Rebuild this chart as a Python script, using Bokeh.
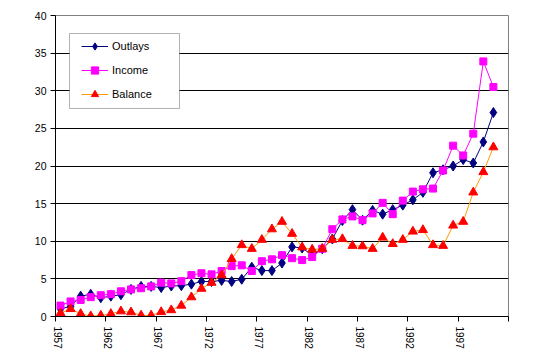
from bokeh.plotting import figure
from bokeh.models import FixedTicker, Legend, LegendItem, BoxAnnotation, AllLabels
from bokeh.embed import file_html
from bokeh.resources import INLINE

years = list(range(1957, 2001))
outlays = [1.0, 1.35, 2.7, 2.95, 2.5, 2.7, 2.9, 3.6, 4.0, 4.0,
           3.85, 4.05, 4.1, 4.3, 4.65, 4.65, 4.8, 4.65, 4.95, 6.55,
           6.1, 6.1, 7.1, 9.25, 9.1, 8.15, 9.0, 10.3, 12.75, 14.2,
           12.8, 14.1, 13.6, 14.2, 14.8, 15.5, 16.5, 19.1, 19.5, 20.0,
           20.85, 20.4, 23.2, 27.1]
income = [1.45, 2.0, 2.2, 2.57, 2.83, 2.97, 3.35, 3.6, 3.76, 4.0,
          4.5, 4.4, 4.7, 5.5, 5.75, 5.6, 6.05, 6.7, 6.8, 6.05,
          7.35, 7.6, 8.15, 7.75, 7.5, 7.9, 9.0, 11.6, 12.9, 13.3,
          12.8, 13.7, 15.1, 13.6, 15.4, 16.6, 16.9, 17.0, 19.4, 22.7,
          21.4, 24.3, 33.9, 30.5]
balance = [0.45, 1.0, 0.35, 0.05, 0.13, 0.35, 0.7, 0.57, 0.15, 0.15,
           0.6, 0.85, 1.45, 2.57, 3.7, 4.5, 5.5, 7.65, 9.5, 9.0,
           10.2, 11.6, 12.6, 11.0, 9.2, 8.9, 9.0, 10.2, 10.3, 9.4,
           9.35, 9.0, 10.5, 9.65, 10.2, 11.3, 11.5, 9.5, 9.4, 12.1,
           12.6, 16.5, 19.2, 22.5]
series_names = ["Outlays", "Income", "Balance"]
tick_years = [1957, 1962, 1967, 1972, 1977, 1982, 1987, 1992, 1997]
y_ticks = [0, 5, 10, 15, 20, 25, 30, 35, 40]

W, H = 547, 360
ML, MR, MT, MB = 55, 39, 15, 44
X0, X1 = 1956.5, 2001.5
Y0, Y1 = 0, 40
FW = W - ML - MR
FH = H - MT - MB
FONT = "Liberation Sans"


def sx(px):
    return X0 + (px - ML) * (X1 - X0) / FW


def sy(py):
    return Y1 - (py - MT) * (Y1 - Y0) / FH


p = figure(width=W, height=H, x_range=(X0, X1), y_range=(Y0, Y1),
           output_backend="svg", toolbar_location=None,
           min_border_left=ML, min_border_right=MR,
           min_border_top=MT, min_border_bottom=MB)
p.background_fill_color = "white"
p.border_fill_color = "white"
p.outline_line_color = "#808080"

xax = p.xaxis[0]
label_pos = [t - 0.3 for t in tick_years]
xax.ticker = FixedTicker(ticks=label_pos,
                         minor_ticks=[t - 0.5 for t in tick_years] + [X1])
xax.major_label_overrides = {pos: str(t) for pos, t in zip(label_pos, tick_years)}
xax.major_tick_line_color = None
xax.major_tick_out = 5
xax.major_tick_in = 0
xax.minor_tick_line_color = "black"
xax.minor_tick_out = 5
xax.minor_tick_in = 0
xax.major_label_orientation = "vertical"
xax.major_label_standoff = 5
xax.major_label_text_font = FONT
xax.major_label_text_font_size = "10px"
xax.major_label_text_color = "black"
xax.axis_line_color = "black"

yax = p.yaxis[0]
yax.ticker = FixedTicker(ticks=y_ticks)
yax.major_label_policy = AllLabels()
yax.major_tick_line_color = "black"
yax.major_tick_out = 5
yax.major_tick_in = 0
yax.minor_tick_line_color = None
yax.major_label_standoff = 4
yax.major_label_text_font = FONT
yax.major_label_text_font_size = "10.5px"
yax.major_label_text_color = "black"
yax.axis_line_color = "black"

p.xgrid.grid_line_color = None
p.ygrid.ticker = FixedTicker(ticks=y_ticks[1:-1])
p.ygrid.grid_line_color = "black"
p.ygrid.grid_line_width = 1

l1 = p.line(years, outlays, line_color="#000080", line_width=1)
m1 = p.scatter(years, outlays, marker="diamond", size=10,
               fill_color="#000080", line_color="#000080")
l2 = p.line(years, income, line_color="#FF00FF", line_width=1)
m2 = p.scatter(years, income, marker="square", size=7,
               fill_color="#FF00FF", line_color="#FF00FF")
l3 = p.line(years, balance, line_color="#FF9900", line_width=1)
m3 = p.scatter(years, balance, marker="triangle", size=9,
               fill_color="#FF0000", line_color="#FF0000")

box = BoxAnnotation(left=sx(69), right=sx(179), top=sy(33), bottom=sy(108),
                    fill_color="white", fill_alpha=1.0,
                    line_color="black", line_width=1)
p.add_layout(box)

legend = Legend(items=[
    LegendItem(label=series_names[0], renderers=[l1, m1]),
    LegendItem(label=series_names[1], renderers=[l2, m2]),
    LegendItem(label=series_names[2], renderers=[l3, m3]),
], location=(26, 213))
legend.padding = 10
legend.margin = 0
legend.glyph_width = 27
legend.glyph_height = 18
legend.spacing = 6
legend.label_standoff = 4
legend.label_text_font = FONT
legend.label_text_font_size = "11px"
legend.label_text_color = "black"
legend.background_fill_alpha = 0
legend.border_line_color = None
p.add_layout(legend)

open("out.html", "w").write(file_html(p, INLINE))
